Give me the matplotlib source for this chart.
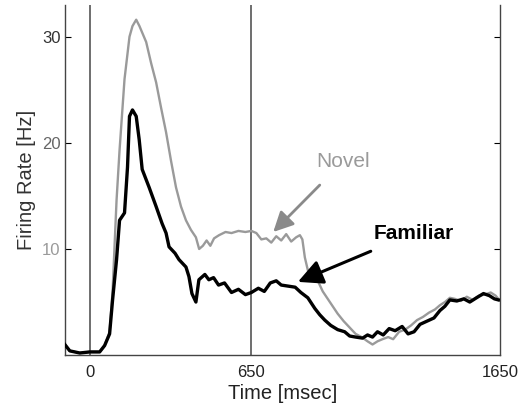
import matplotlib
matplotlib.use("Agg")
import matplotlib.pyplot as plt

plt.rcParams['font.family'] = ['Liberation Sans', 'DejaVu Sans']

# firing rate traces, time in msec relative to stimulus onset
t_fam = [-100, -80, -40, 0, 40, 60, 80, 92, 108, 120, 140, 152, 160, 172, 187, 199,
         211, 239, 267, 291, 307, 319, 343, 359, 375, 387, 399, 411, 427, 439, 463,
         479, 498, 518, 542, 570, 598, 626, 650, 678, 702, 726, 750, 770, 798, 826,
         849, 877, 905, 925, 945, 969, 997, 1025, 1045, 1069, 1097, 1117, 1137, 1157,
         1180, 1204, 1228, 1256, 1280, 1304, 1328, 1356, 1384, 1408, 1428, 1448, 1476,
         1504, 1528, 1555, 1583, 1607, 1627, 1643]
r_fam = [1.0, 0.4, 0.2, 0.3, 0.3, 0.9, 2.0, 5.2, 9.0, 12.7, 13.4, 17.7, 22.5, 23.1, 22.5, 20.3,
         17.5, 15.8, 14.0, 12.4, 11.5, 10.2, 9.6, 9.0, 8.6, 8.3, 7.4, 5.8, 5.0, 7.1, 7.6,
         7.1, 7.3, 6.6, 6.8, 5.9, 6.2, 5.7, 5.9, 6.3, 6.0, 6.8, 7.0, 6.6, 6.5, 6.4,
         5.9, 5.4, 4.4, 3.8, 3.3, 2.8, 2.4, 2.2, 1.8, 1.7, 1.6, 1.9, 1.7, 2.2,
         1.9, 2.5, 2.3, 2.7, 2.0, 2.2, 2.9, 3.2, 3.5, 4.2, 4.6, 5.2, 5.1,
         5.3, 5.0, 5.4, 5.8, 5.6, 5.3, 5.2]

t_nov = [-100, -80, -40, 0, 40, 60, 80, 92, 108, 120, 140, 160, 172, 187, 200, 227,
         247, 267, 287, 307, 327, 347, 367, 387, 407, 427, 440, 455, 470, 485, 500,
         520, 546, 570, 598, 626, 650, 670, 690, 710, 730, 750, 770, 790, 810, 830,
         845, 855, 865, 877, 897, 917, 937, 957, 977, 997, 1021, 1045, 1069, 1093,
         1117, 1137, 1157, 1177, 1200, 1220, 1244, 1268, 1292, 1316, 1340, 1364, 1388,
         1408, 1428, 1448, 1468, 1492, 1516, 1540, 1564, 1588, 1612, 1632, 1643]
r_nov = [1.0, 0.4, 0.2, 0.3, 0.3, 0.9, 2.2, 6.0, 14.6, 19.3, 26.0, 30.0, 31.0, 31.6, 31.0, 29.5,
         27.5, 25.7, 23.3, 21.0, 18.3, 15.8, 14.0, 12.7, 11.8, 11.1, 10.0, 10.3, 10.8, 10.3, 11.0,
         11.3, 11.6, 11.5, 11.7, 11.6, 11.7, 11.5, 10.9, 11.0, 10.6, 11.2, 10.8, 11.4, 10.7, 11.1,
         11.3, 10.9, 9.2, 8.0, 7.4, 7.0, 6.0, 5.3, 4.6, 3.9, 3.2, 2.6, 2.0, 1.7,
         1.3, 1.0, 1.3, 1.5, 1.7, 1.5, 2.2, 2.4, 2.8, 3.3, 3.6, 4.0, 4.3,
         4.7, 5.0, 5.4, 5.3, 5.1, 5.5, 5.2, 5.6, 5.7, 5.9, 5.6, 5.3]

xticks = [0, 650, 1650]
yticks = [10, 20, 30]
events = [0, 650]

fig = plt.figure(figsize=(5.27, 4.04), dpi=100)
ax = fig.add_axes([0.123, 0.121, 0.826, 0.867])

for e in events:
    ax.axvline(e, color='#555555', lw=1.2, zorder=1)

ax.plot(t_nov, r_nov, color='#9a9a9a', lw=1.7, zorder=2)
ax.plot(t_fam, r_fam, color='black', lw=2.4, zorder=3)

ax.set_xlim(-100, 1650)
ax.set_ylim(0, 33)
ax.set_xticks(xticks)
ax.set_yticks(yticks)
ax.tick_params(axis='y', direction='in', length=4, right=True, labelsize=12, pad=3)
ax.tick_params(axis='x', length=0, labelsize=12, pad=7, colors='#222222')
# lower y labels are printed lighter
for lab, c in zip(ax.get_yticklabels(), ['#9a9a9a', '#666666', '#333333']):
    lab.set_color(c)
ax.spines['top'].set_visible(False)
for s in ['left', 'right', 'bottom']:
    ax.spines[s].set_color('#444444')
    ax.spines[s].set_linewidth(1.0)

ax.set_xlabel('Time [msec]', fontsize=14.5, labelpad=3, color='#222222')
ax.set_ylabel('Firing Rate [Hz]', fontsize=14.5, labelpad=4, color='#333333')

ax.annotate('Novel', xy=(738, 11.6), xytext=(1017, 18.2), fontsize=15, color='#9a9a9a',
            ha='center', va='center',
            arrowprops=dict(arrowstyle='-|>,head_length=0.8,head_width=0.4', color='#8a8a8a',
                            lw=2, shrinkA=11, shrinkB=0))
ax.annotate('Familiar', xy=(837, 6.9), xytext=(1304, 11.5), fontsize=15, fontweight='bold',
            ha='center', va='center',
            arrowprops=dict(arrowstyle='-|>,head_length=1.0,head_width=0.5', color='black',
                            lw=2.2, shrinkA=11, shrinkB=0))

fig.savefig('out.png', dpi=100)
